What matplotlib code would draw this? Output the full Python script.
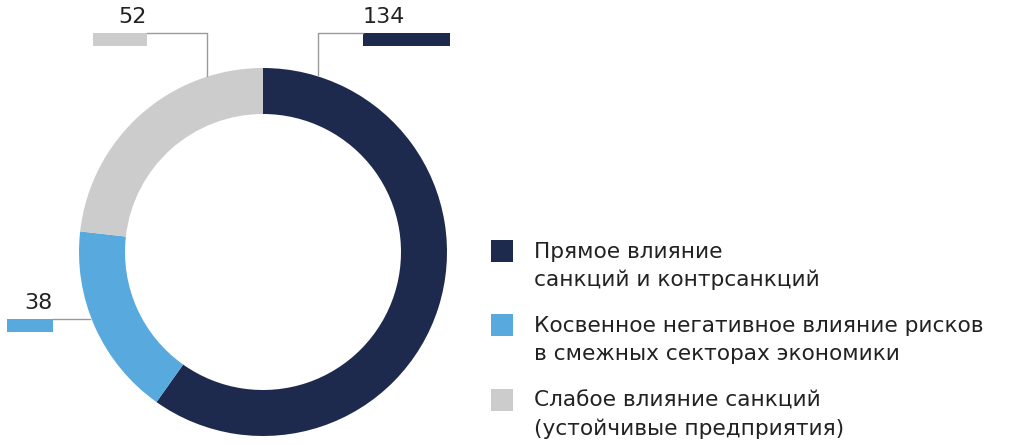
import matplotlib.pyplot as plt

# data
values = [134, 38, 52]
labels = ["Прямое влияние\nсанкций и контрсанкций",
          "Косвенное негативное влияние рисков\nв смежных секторах экономики",
          "Слабое влияние санкций\n(устойчивые предприятия)"]
colors = ["#1d2a4d", "#58aade", "#cccccc"]

W, H = 1024, 445
fig = plt.figure(figsize=(W / 100, H / 100), dpi=100)
ax = fig.add_axes([0, 0, 1, 1])

def py(y):
    # pixel row (from top) -> data y
    return H - y

cx, cy, r = 263, py(252), 184
ax.pie(values, colors=colors, startangle=90, counterclock=False,
       center=(cx, cy), radius=r, wedgeprops=dict(width=46, linewidth=0))

txt = "#222222"
lc = "#9a9a9a"

# value labels with leader lines: (value index, bar x0, bar x1, bar top, line points, text align)
callouts = [
    (0, 363, 450, 33, [(318, 75), (318, 33), (363, 33)], "left"),
    (2, 93, 147, 33, [(207, 76), (207, 33), (147, 33)], "right"),
    (1, 7, 53, 319, [(90, 319), (53, 319)], "right"),
]
for i, x0, x1, top, pts, ha in callouts:
    ax.plot([p[0] for p in pts], [py(p[1]) for p in pts], color=lc, lw=1)
    ax.add_patch(plt.Rectangle((x0, py(top + 13)), x1 - x0, 13,
                               color=colors[i], lw=0))
    tx = x0 if ha == "left" else x1
    ax.text(tx, py(top - 16), str(values[i]), ha=ha, va="center",
            fontsize=16, color=txt, family="DejaVu Sans")

# legend
sq_tops = [240, 314, 389]
for i, t in enumerate(sq_tops):
    ax.add_patch(plt.Rectangle((491, py(t + 22)), 22, 22, color=colors[i], lw=0))
    l1, l2 = labels[i].split("\n")
    ax.text(534, py(t + 12), l1, ha="left", va="center", fontsize=15.6,
            color=txt, family="DejaVu Sans")
    ax.text(534, py(t + 40), l2, ha="left", va="center", fontsize=15.6,
            color=txt, family="DejaVu Sans")

ax.set_xlim(0, W)
ax.set_ylim(0, H)
ax.set_aspect("auto")
ax.axis("off")
fig.savefig("out.png", dpi=100)
